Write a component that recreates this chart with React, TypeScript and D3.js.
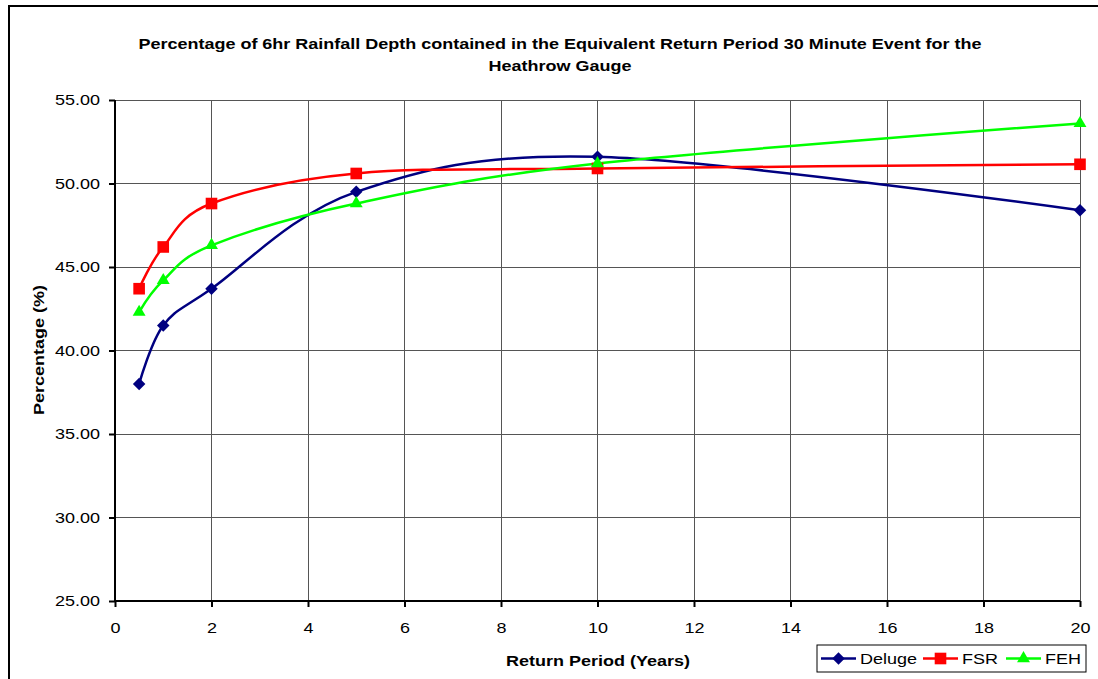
import { useEffect, useRef } from "react";
import * as d3 from "d3";

const returnPeriods = [0.5, 1, 2, 5, 10, 20];
const delugeValues = [38.0, 41.5, 43.7, 49.5, 51.6, 48.4];
const fsrValues = [43.7, 46.2, 48.8, 50.6, 50.9, 51.15];
const fehValues = [42.3, 44.2, 46.3, 48.8, 51.2, 53.6];
const xTicks = [0, 2, 4, 6, 8, 10, 12, 14, 16, 18, 20];
const yTicks = [25, 30, 35, 40, 45, 50, 55];

const seriesNames = ["Deluge", "FSR", "FEH"];
const seriesColors = ["#000080", "#ff0000", "#00ff00"];

const W = 1098;
const H = 679;
// the reference text is a bit wider than plain Arial
const STRETCH = 1.2;

const App = () => {
  const ref = useRef<SVGSVGElement>(null);

  useEffect(() => {
    const svg = d3.select(ref.current);
    svg.selectAll("*").remove();

    const left = 115, right = 1080, top = 100, bottom = 601;
    const x = d3.scaleLinear().domain([0, 20]).range([left, right]);
    const y = d3.scaleLinear().domain([25, 55]).range([bottom, top]);
    const font = "Liberation Sans, Arial, sans-serif";

    // draws a marker of series s at (cx, cy)
    const marker = (g: any, s: number, cx: number, cy: number) => {
      if (s === 0) {
        g.append("path").attr("d", d3.symbol().type(d3.symbolSquare).size(78))
          .attr("transform", `translate(${cx},${cy}) rotate(45)`).attr("fill", seriesColors[s]);
      } else if (s === 1) {
        g.append("path").attr("d", d3.symbol().type(d3.symbolSquare).size(135))
          .attr("transform", `translate(${cx},${cy})`).attr("fill", seriesColors[s]);
      } else {
        g.append("path").attr("d", d3.symbol().type(d3.symbolTriangle).size(72))
          .attr("transform", `translate(${cx},${cy})`).attr("fill", seriesColors[s]);
      }
    };

    svg.append("rect").attr("width", W).attr("height", H).attr("fill", "#fff");
    // outer chart border
    svg.append("rect")
      .attr("x", 9).attr("y", 6).attr("width", 1110).attr("height", 700)
      .attr("fill", "none").attr("stroke", "#000").attr("stroke-width", 2);

    // grid
    const grid = svg.append("g").attr("shape-rendering", "crispEdges");
    grid.selectAll(".vg").data(xTicks.slice(1)).enter().append("line")
      .attr("x1", d => x(d)).attr("x2", d => x(d)).attr("y1", top).attr("y2", bottom)
      .attr("stroke", "#555").attr("stroke-width", 1);
    grid.selectAll(".hg").data(yTicks.slice(1)).enter().append("line")
      .attr("x1", left).attr("x2", right).attr("y1", d => y(d)).attr("y2", d => y(d))
      .attr("stroke", "#555").attr("stroke-width", 1);

    // axes
    const yAxis = svg.append("g").attr("transform", `translate(${left},0)`)
      .call(d3.axisLeft(y).tickValues(yTicks).tickFormat(d3.format(".2f")).tickSize(6).tickPadding(6.5));
    const xAxis = svg.append("g").attr("transform", `translate(0,${bottom})`)
      .call(d3.axisBottom(x).tickValues(xTicks).tickSize(6).tickPadding(15));
    [yAxis, xAxis].forEach(a => {
      a.select(".domain").attr("stroke", "#000").attr("stroke-width", 2);
      a.selectAll(".tick line").attr("stroke", "#000").attr("stroke-width", 2);
      a.selectAll("text").attr("font-family", font).attr("font-size", 15).attr("fill", "#000")
        .attr("transform", `scale(${STRETCH},1)`);
    });
    yAxis.select(".domain").attr("d", `M0,${top}V${bottom}`);
    xAxis.select(".domain").attr("d", `M${left},0H${right}`);

    // lines
    const allValues = [delugeValues, fsrValues, fehValues];
    const line = d3.line<number>()
      .x((_, i) => x(returnPeriods[i]))
      .y(d => y(d))
      .curve(d3.curveCardinal.tension(0));

    allValues.forEach((vals, s) => {
      svg.append("path").datum(vals).attr("d", line)
        .attr("fill", "none").attr("stroke", seriesColors[s]).attr("stroke-width", 2.5);
    });
    const marks = svg.append("g");
    allValues.forEach((vals, s) => {
      vals.forEach((v, i) => marker(marks, s, x(returnPeriods[i]), y(v)));
    });

    const label = (cx: number, cy: number, txt: string, size: number, bold: boolean, rot = 0) =>
      svg.append("text")
        .attr("transform", `translate(${cx},${cy}) rotate(${rot}) scale(${STRETCH},1)`)
        .attr("text-anchor", "middle").attr("font-family", font).attr("font-size", size)
        .attr("font-weight", bold ? "bold" : "normal").text(txt);

    // title
    label(560, 49, "Percentage of 6hr Rainfall Depth contained in the Equivalent Return Period 30 Minute Event for the", 15, true);
    label(560, 71, "Heathrow Gauge", 15, true);

    label(598, 666, "Return Period (Years)", 15, true);
    label(44, 350, "Percentage (%)", 15, true, -90);

    // legend
    const lg = svg.append("g");
    lg.append("rect").attr("x", 817).attr("y", 645).attr("width", 269).attr("height", 27)
      .attr("fill", "#fff").attr("stroke", "#000").attr("stroke-width", 1);
    const offsets = [821, 923, 1006];
    seriesNames.forEach((name, s) => {
      const ox = offsets[s];
      const cy = 658.5;
      lg.append("line").attr("x1", ox).attr("x2", ox + 35).attr("y1", cy).attr("y2", cy)
        .attr("stroke", seriesColors[s]).attr("stroke-width", 2.5);
      marker(lg, s, ox + 17.5, cy);
      lg.append("text").attr("transform", `translate(${ox + 39},${cy + 5.5}) scale(${STRETCH},1)`)
        .attr("font-family", font).attr("font-size", 15).text(name);
    });
  }, []);

  return <svg ref={ref} width={W} height={H} style={{ position: "absolute", left: 0, top: 0 }} />;
};

export default App;
